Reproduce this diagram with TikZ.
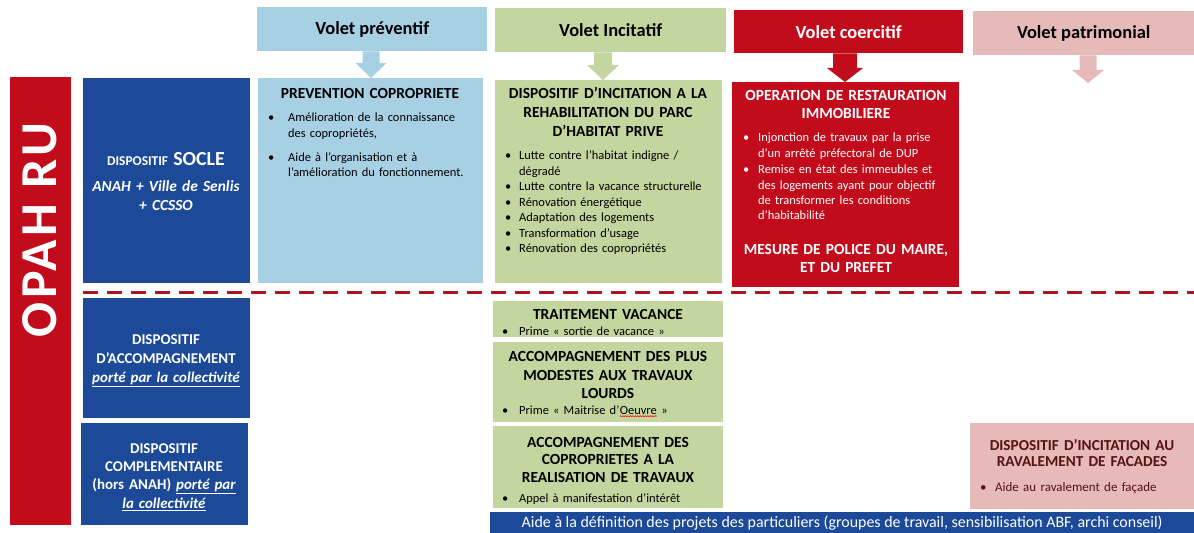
\documentclass[tikz,border=0pt]{standalone}
\usepackage{fontspec}
\setmainfont{Carlito}
\usetikzlibrary{calc,decorations.pathmorphing}

\definecolor{bleuprev}{RGB}{168,208,229}
\definecolor{vertinc}{RGB}{196,214,160}
\definecolor{rougecoer}{RGB}{194,12,28}
\definecolor{rosepat}{RGB}{231,186,186}
\definecolor{bleuanah}{RGB}{28,74,152}
\definecolor{bordeaux}{RGB}{86,18,20}
\definecolor{tiret}{RGB}{172,22,34}

% puce avec retrait suspendu
\newcommand{\puce}[2][15]{\hangindent=#1bp\hangafter=1\noindent\makebox[#1bp][l]{\textbullet}#2\par}
% mot souligne par le correcteur
\newcommand{\soulignerouge}[1]{\tikz[baseline=(m.base)]{\node[inner sep=0pt] (m) {#1};
  \draw[red,line width=0.5bp,decorate,decoration={snake,amplitude=0.6bp,segment length=2.5bp}]
    ([yshift=-2.2bp]m.base west) -- ([yshift=-2.2bp]m.base east);}}
% fleche epaisse sous un volet : entete, pointe, couleur, demi-tige, demi-tete, longueur tete
\newcommand{\flechevolet}[6]{%
  \fill[#3] ($(#2 |- #1.south)+(-#4,0)$) -- ($(#2 |- #1.south)+(#4,0)$)
    -- ($(#2)+(#4,-#6)$) -- ($(#2)+(#5,-#6)$) -- (#2)
    -- ($(#2)+(-#5,-#6)$) -- ($(#2)+(-#4,-#6)$) -- cycle;}

\tikzset{
  cadre/.style={rectangle,inner sep=0pt,anchor=north west},
  volet/.style={cadre,font=\fontsize{18.5}{22}\selectfont\bfseries},
  titre/.style={anchor=base,inner sep=0pt,align=center,text width=#1,font=\fontsize{15.5}{19}\selectfont\bfseries},
  titre/.default=225bp,
  liste/.style={anchor=base west,inner sep=0pt,text width=#1,font=\fontsize{12.5}{15.5}\selectfont},
  liste/.default=215bp,
}

\begin{document}
\begin{tikzpicture}[x=1bp,y=-1bp,line join=round]
  \useasboundingbox (0,0) rectangle (1194,533);

  % les quatre volets
  \node[volet,fill=bleuprev,minimum width=230bp,minimum height=44bp] (vPrev) at (257,7) {Volet préventif};
  \node[volet,fill=vertinc,minimum width=231bp,minimum height=44bp] (vInc) at (495,8) {Volet Incitatif};
  \node[volet,fill=rougecoer,text=white,minimum width=229bp,minimum height=43bp] (vCoer) at (734,10) {Volet coercitif};
  \node[volet,fill=rosepat,minimum width=221bp,minimum height=44bp] (vPat) at (973,11) {Volet patrimonial};

  % blocs du haut
  \node[cadre,fill=bleuprev,minimum width=225bp,minimum height=205bp] (prev) at (258,78) {};
  \node[cadre,fill=vertinc,minimum width=227bp,minimum height=203bp] (inc) at (495,80) {};
  \node[cadre,fill=rougecoer,minimum width=227bp,minimum height=205bp] (coer) at (732,82) {};

  % pointes des fleches
  \coordinate (pPrev) at (371,78);
  \coordinate (pInc) at (603,80);
  \coordinate (pCoer) at (845,82);
  \coordinate (pPat) at (1088,83);
  \flechevolet{vPrev}{pPrev}{bleuprev}{8.5}{15.5}{15}
  \flechevolet{vInc}{pInc}{vertinc}{9}{16}{15}
  \flechevolet{vCoer}{pCoer}{rougecoer}{12}{18}{14}
  \flechevolet{vPat}{pPat}{rosepat}{8.5}{16}{13}

  % colonne de gauche
  \node[cadre,fill=rougecoer,minimum width=61bp,minimum height=448bp] (opah) at (10,77) {};
  \node[rotate=90,text=white,inner sep=0pt,font=\fontsize{52}{52}\selectfont\bfseries\addfontfeatures{LetterSpace=7}] (opahT) at (40,230) {OPAH RU};
  \node[cadre,fill=bleuanah,minimum width=167bp,minimum height=205bp] (socle) at (83,78) {};
  \node[cadre,fill=bleuanah,minimum width=167bp,minimum height=120bp] (accomp) at (83,298) {};
  \node[cadre,fill=bleuanah,minimum width=167bp,minimum height=102bp] (compl) at (81,423) {};

  \node[titre=165bp,text=white] (socleT) at (166,166)
    {{\fontsize{13.5}{13.5}\selectfont DISPOSITIF} {\fontsize{20}{20}\selectfont SOCLE}\\[7bp]
     \itshape ANAH + Ville de Senlis\\\itshape + CCSSO};
  \node[titre=165bp,text=white,font=\fontsize{15}{19}\selectfont\bfseries] (accompT) at (166,345)
    {DISPOSITIF\\D’ACCOMPAGNEMENT\\\underline{\itshape porté par la collectivité}};
  \node[titre=165bp,text=white,font=\fontsize{15}{18.5}\selectfont\bfseries] (complT) at (164,453)
    {DISPOSITIF\\COMPLEMENTAIRE\\(hors ANAH) \underline{\itshape porté par}\\\underline{\itshape la collectivité}};

  % ligne de separation
  \coordinate (tA) at (83,293);
  \coordinate (tB) at (1194,293);
  \draw[tiret,line width=3bp,dash pattern=on 15bp off 9bp] (tA) -- (tB);

  % volet preventif
  \node[titre] (prevT) at (370,99) {PREVENTION COPROPRIETE};
  \node[liste] (prevL) at (268,122)
    {\puce[20]{Amélioration de la connaissance\newline des copropriétés,}\vspace{8.5bp}
     \puce[20]{Aide à l’organisation et à\newline l’amélioration du fonctionnement.}};

  % volet incitatif
  \node[titre] (incT) at (608,99) {DISPOSITIF D’INCITATION A LA\\REHABILITATION DU PARC\\D’HABITAT PRIVE};
  \node[liste] (incL) at (505,160)
    {\puce[14]{Lutte contre l’habitat indigne /\newline dégradé}
     \puce[14]{Lutte contre la vacance structurelle}
     \puce[14]{Rénovation énergétique}
     \puce[14]{Adaptation des logements}
     \puce[14]{Transformation d’usage}
     \puce[14]{Rénovation des copropriétés}};

  % volet coercitif
  \node[titre,text=white,font=\fontsize{15.5}{18}\selectfont\bfseries] (coerT) at (846,101)
    {OPERATION DE RESTAURATION\\IMMOBILIERE};
  \node[liste,text=white,font=\fontsize{12.5}{15.3}\selectfont] (coerL) at (743,142)
    {\puce[15]{Injonction de travaux par la prise\newline d’un arrêté préfectoral de DUP}\vspace{1.5bp}
     \puce[15]{Remise en état des immeubles et\newline des logements ayant pour objectif\newline de transformer les conditions\newline d’habitabilité}};
  \node[titre,text=white,font=\fontsize{15.5}{18}\selectfont\bfseries] (coerM) at (846,255)
    {MESURE DE POLICE DU MAIRE,\\ET DU PREFET};

  % dispositifs d'accompagnement
  \node[cadre,fill=vertinc,minimum width=230bp,minimum height=36bp] (vac) at (493,301) {};
  \node[cadre,fill=vertinc,minimum width=230bp,minimum height=80bp] (modestes) at (493,342) {};
  \node[cadre,fill=vertinc,minimum width=230bp,minimum height=82bp] (copro) at (493,426) {};

  \node[titre] (vacT) at (608,320) {TRAITEMENT VACANCE};
  \node[liste] (vacL) at (502,336) {\puce[17]{Prime «~sortie de vacance~»}};
  \node[titre,font=\fontsize{15.5}{18.5}\selectfont\bfseries] (modT) at (608,362)
    {ACCOMPAGNEMENT DES PLUS\\MODESTES AUX TRAVAUX\\LOURDS};
  \node[liste] (modL) at (502,414) {\puce[17]{Prime «~Maitrise d’\soulignerouge{Oeuvre}~»}};
  \node[titre,font=\fontsize{15.5}{18}\selectfont\bfseries] (copT) at (608,447)
    {ACCOMPAGNEMENT DES\\COPROPRIETES A LA\\REALISATION DE TRAVAUX};
  \node[liste] (copL) at (502,502) {\puce[17]{Appel à manifestation d’intérêt}};

  % volet patrimonial
  \node[cadre,fill=rosepat,minimum width=224bp,minimum height=86bp] (pat) at (970,423) {};
  \node[titre=220bp,text=bordeaux,font=\fontsize{15.3}{17}\selectfont\bfseries] (patT) at (1082,450)
    {DISPOSITIF D’INCITATION AU\\RAVALEMENT DE FACADES};
  \node[liste,text=bordeaux,font=\fontsize{13}{15}\selectfont] (patL) at (980,491) {\puce[15]{Aide au ravalement de façade}};

  % bandeau du bas
  \node[cadre,fill=bleuanah,text=white,minimum width=704bp,minimum height=21bp,font=\fontsize{16}{17}\selectfont] (aide) at (490,512)
    {Aide à la définition des projets des particuliers (groupes de travail, sensibilisation ABF, archi conseil)};
\end{tikzpicture}
\end{document}
